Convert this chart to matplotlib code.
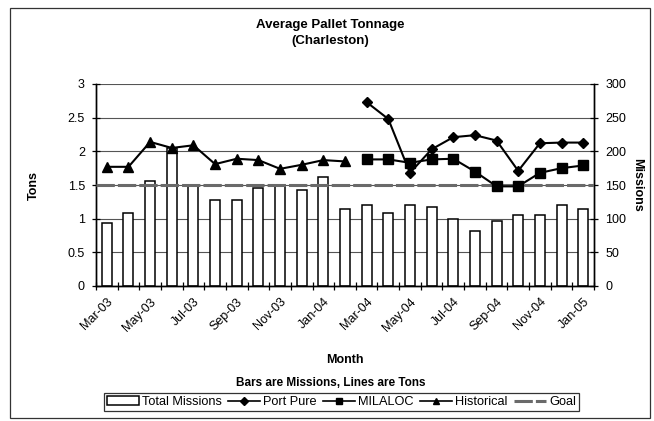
import matplotlib.pyplot as plt
from matplotlib.patches import Rectangle
from matplotlib.lines import Line2D
from matplotlib.patches import Patch

plt.rcParams['font.family'] = ['Liberation Sans', 'DejaVu Sans']

# data
months = ["Mar-03", "Apr-03", "May-03", "Jun-03", "Jul-03", "Aug-03", "Sep-03", "Oct-03",
          "Nov-03", "Dec-03", "Jan-04", "Feb-04", "Mar-04", "Apr-04", "May-04", "Jun-04",
          "Jul-04", "Aug-04", "Sep-04", "Oct-04", "Nov-04", "Dec-04", "Jan-05"]
missions = [94, 109, 156, 205, 150, 128, 128, 146, 148, 142, 162, 115,
            120, 109, 121, 118, 99, 81, 96, 105, 106, 120, 115]
historical = [1.77, 1.77, 2.14, 2.05, 2.09, 1.81, 1.89, 1.87, 1.74, 1.80, 1.87, 1.85]
port_pure = [2.73, 2.48, 1.68, 2.03, 2.21, 2.24, 2.16, 1.71, 2.12, 2.13, 2.13]
milaloc = [1.88, 1.88, 1.83, 1.88, 1.89, 1.70, 1.48, 1.48, 1.68, 1.75, 1.79]
goal = 1.5

x = list(range(len(months)))
x_hist = x[:len(historical)]
x_new = x[len(months) - len(port_pure):]

fig = plt.figure(figsize=(6.54, 4.21), dpi=100)
fig.patches.append(Rectangle((10 / 654, 3 / 421), 640 / 654, 410 / 421, transform=fig.transFigure,
                             fill=False, edgecolor="#333333", linewidth=0.9))

ax2 = fig.add_axes([96 / 654, 1 - 286 / 421, 498 / 654, 202 / 421])
ax = ax2.twinx()
ax.yaxis.tick_left()
ax.yaxis.set_label_position("left")
ax2.yaxis.tick_right()
ax2.yaxis.set_label_position("right")

# bars (missions) on the right axis, with gridlines behind them
ax2.bar(x, missions, width=0.46, color="white", edgecolor="black", linewidth=1.1, zorder=2)
ax2.set_ylim(0, 300)
ax2.set_yticks(range(0, 301, 50))
ax2.grid(axis="y", color="#555555", linewidth=0.8, zorder=0)
ax2.set_axisbelow(True)
ax2.set_ylabel("Missions", fontsize=9, fontweight="bold", rotation=-90)
ax2.yaxis.set_label_coords(1.098, 0.5)

# lines (tons) on the left axis
ax.axhline(goal, color="#6a6a6a", linewidth=2.2, linestyle=(0, (6, 1)), zorder=3)
ax.plot(x_new, port_pure, color="black", marker="D", markersize=5, linewidth=1.5, zorder=4)
ax.plot(x_new, milaloc, color="black", marker="s", markersize=7, linewidth=1.5, zorder=4)
ax.plot(x_hist, historical, color="black", marker="^", markersize=7, linewidth=1.5, zorder=4)
ax.set_ylim(0, 3)
ax.set_yticks([0, 0.5, 1, 1.5, 2, 2.5, 3])
ax.set_yticklabels(["0", "0.5", "1", "1.5", "2", "2.5", "3"])
ax.set_ylabel("Tons", fontsize=9, fontweight="bold")
ax.yaxis.set_label_coords(-0.112, 0.5)

ax2.set_xlim(-0.5, len(months) - 0.5)
ax2.set_xticks([i - 0.5 for i in range(len(months) + 1)])
ax2.set_xticklabels([])
ax2.set_xticks(x[::2], minor=True)
ax2.set_xticklabels(months[::2], minor=True, rotation=45, ha="right", rotation_mode="anchor",
                    fontsize=9)
ax2.tick_params(axis="x", which="major", direction="inout", length=6, width=0.9)
ax2.tick_params(axis="x", which="minor", length=0, pad=7)
ax2.set_xlabel("Month", fontsize=9, fontweight="bold")
ax2.xaxis.set_label_coords(0.5, -0.335)

for a in (ax, ax2):
    a.tick_params(axis="y", direction="inout", length=6, width=0.9, labelsize=9, pad=5)
    for s in a.spines.values():
        s.set_linewidth(1.0)
ax.spines["top"].set_visible(False)
ax2.spines["top"].set_visible(False)

fig.text(0.505, 1 - 33 / 421, "Average Pallet Tonnage\n(Charleston)", ha="center", va="center",
         fontsize=9.5, fontweight="bold", linespacing=1.45)
fig.text(0.505, 1 - 383 / 421, "Bars are Missions, Lines are Tons", ha="center", va="center",
         fontsize=8.5, fontweight="bold")

handles = [Patch(facecolor="white", edgecolor="black", linewidth=1.1),
           Line2D([], [], color="black", marker="D", markersize=4, linewidth=1.2),
           Line2D([], [], color="black", marker="s", markersize=5, linewidth=1.2),
           Line2D([], [], color="black", marker="^", markersize=4, linewidth=1.2),
           Line2D([], [], color="#6a6a6a", linewidth=2.2, linestyle=(0, (6, 1)))]
labels = ["Total Missions", "Port Pure", "MILALOC", "Historical", "Goal"]
leg = fig.legend(handles, labels, loc="center", bbox_to_anchor=(0.522, 1 - 402 / 421), ncol=5,
                 fontsize=9.2, frameon=True, fancybox=False, edgecolor="black",
                 handlelength=2.5, handletextpad=0.25, columnspacing=0.5, borderpad=0.2)
leg.get_frame().set_linewidth(0.9)

fig.savefig("out.png", dpi=100)
